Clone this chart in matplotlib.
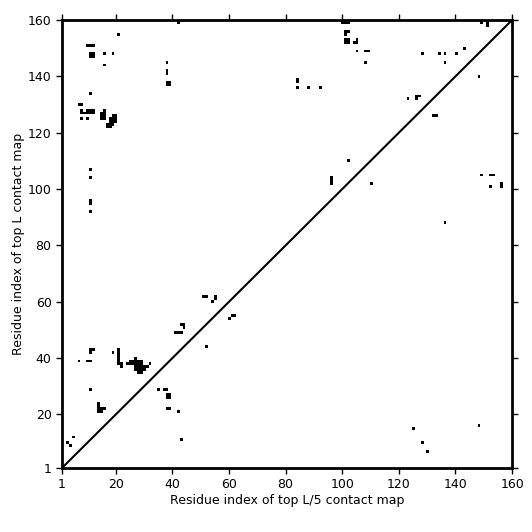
import numpy as np
import matplotlib
matplotlib.use("Agg")
import matplotlib.pyplot as plt

N = 160

# contacts above the diagonal (top L)
top_l_x = [42, 21, 10, 11, 12, 11, 12, 11, 12, 16, 19, 16, 38, 38, 38, 38, 39, 38, 39,
           11, 7, 8, 8, 8, 9, 10, 10, 11, 11, 12, 12, 8, 10,
           16, 15, 15, 15, 16, 16, 16, 18, 18, 18, 19, 19, 19, 19, 20, 20, 20, 17, 17, 18,
           11, 11, 11, 11, 11, 51, 52, 55, 55, 54,
           43, 44, 44, 41, 42, 43, 11, 12, 11, 19,
           21, 21, 21, 21, 21, 21, 22, 22, 7, 10, 11,
           24, 25, 25, 26, 26, 27, 27, 27, 27, 27, 28, 28, 28, 28, 28,
           29, 29, 29, 29, 29, 30, 30, 31, 32, 11,
           14, 14, 14, 14, 15, 15, 16, 5, 3, 4, 1, 1, 1, 1,
           100, 101, 102, 101, 102, 101, 101, 102, 101, 102, 104, 105, 105,
           105, 108, 109, 108, 84, 84, 84, 88, 92, 96, 96, 96, 102,
           149, 151, 151, 128, 134, 136, 140, 143, 136, 123, 126, 127, 126]
top_l_y = [159, 155, 151, 151, 151, 147, 147, 148, 148, 148, 148, 144, 145, 141, 142, 137, 137, 138, 138,
           134, 130, 130, 127, 128, 127, 127, 128, 127, 128, 127, 128, 125, 125,
           128, 125, 126, 127, 125, 126, 127, 123, 124, 125, 123, 124, 125, 126, 124, 125, 126, 122, 123, 122,
           107, 104, 95, 96, 92, 62, 62, 61, 62, 60,
           52, 52, 51, 49, 49, 49, 43, 43, 42, 42,
           38, 39, 40, 41, 42, 43, 38, 37, 39, 39, 39,
           38, 38, 39, 38, 39, 36, 37, 38, 39, 40, 35, 36, 37, 38, 39,
           35, 36, 37, 38, 39, 36, 37, 37, 38, 29,
           21, 22, 23, 24, 21, 22, 22, 12, 10, 9, 7, 8, 9, 10,
           159, 159, 159, 156, 156, 155, 152, 152, 153, 153, 152, 152, 153,
           149, 149, 149, 145, 138, 139, 136, 136, 136, 102, 103, 104, 110,
           159, 158, 159, 148, 148, 148, 148, 150, 145, 132, 133, 133, 132]

# contacts below the diagonal (top L/5)
top_l5_x = [60, 61, 62, 52, 35, 37, 38, 38, 39, 38, 39, 38, 39, 42, 43,
            110, 148, 132, 133, 149, 152, 153, 152, 156, 156, 136,
            125, 128, 130, 148]
top_l5_y = [54, 55, 55, 44, 29, 29, 29, 26, 26, 27, 27, 22, 22, 21, 11,
            102, 140, 126, 126, 105, 105, 105, 101, 101, 102, 88,
            15, 10, 7, 16]

ticks = [1, 20, 40, 60, 80, 100, 120, 140, 160]

cmap = np.zeros((N, N))
for x, y in zip(top_l_x + top_l5_x, top_l_y + top_l5_y):
  cmap[y - 1, x - 1] = 1

fig = plt.figure(figsize=(5.32, 5.32), dpi=100)
ax = fig.add_axes([0.1165, 0.1203, 0.846, 0.842])

ax.imshow(cmap, cmap="gray_r", vmin=0, vmax=1, origin="lower", interpolation="nearest",
          extent=(0.5, N + 0.5, 0.5, N + 0.5), aspect="auto")
ax.plot([1, N], [1, N], color="black", lw=1.5)

ax.set_xlim(1, N)
ax.set_ylim(1, N)
ax.set_xticks(ticks)
ax.set_yticks(ticks)
ax.tick_params(which="both", direction="out", length=4, width=1, labelsize=9,
               top=True, right=True, labeltop=False, labelright=False)
for s in ax.spines.values():
  s.set_linewidth(2)

ax.set_xlabel("Residue index of top L/5 contact map", fontsize=9, labelpad=2)
ax.set_ylabel("Residue index of top L contact map", fontsize=9, labelpad=2)

plt.savefig("out.png", dpi=100)
